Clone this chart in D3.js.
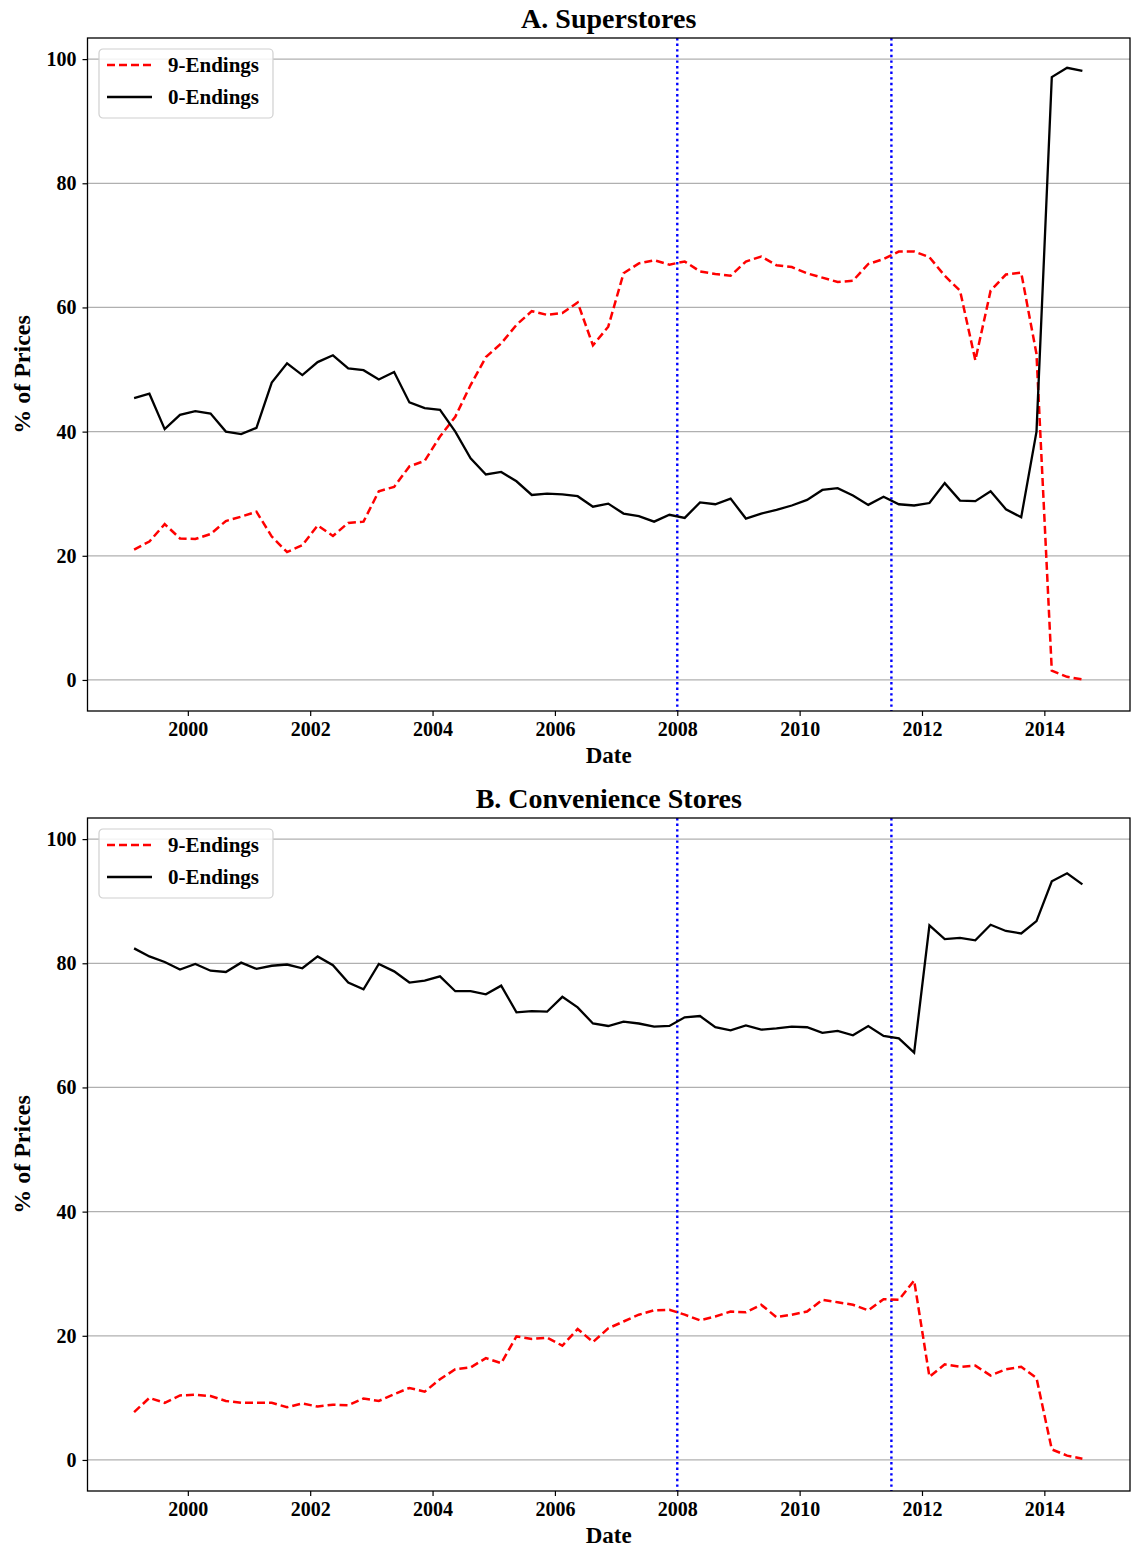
<!DOCTYPE html>
<html><head><meta charset="utf-8">
<script src="https://cdn.jsdelivr.net/npm/d3@7"></script>
<style>body{margin:0;background:#fff}</style>
</head><body>
<svg id="chart" width="1131" height="1547"></svg>
<script>
// Quarterly observation dates (YYYY-MM)
const dates = [
"1999-02","1999-05","1999-08","1999-11","2000-02","2000-05","2000-08","2000-11",
"2001-02","2001-05","2001-08","2001-11","2002-02","2002-05","2002-08","2002-11",
"2003-02","2003-05","2003-08","2003-11","2004-02","2004-05","2004-08","2004-11",
"2005-02","2005-05","2005-08","2005-11","2006-02","2006-05","2006-08","2006-11",
"2007-02","2007-05","2007-08","2007-11","2008-02","2008-05","2008-08","2008-11",
"2009-02","2009-05","2009-08","2009-11","2010-02","2010-05","2010-08","2010-11",
"2011-02","2011-05","2011-08","2011-11","2012-02","2012-05","2012-08","2012-11",
"2013-02","2013-05","2013-08","2013-11","2014-02","2014-05","2014-08"];

// A. Superstores
const superNine = [21.0,22.3,25.1,22.8,22.7,23.5,25.6,26.3,27.1,23.1,20.6,21.7,24.9,23.2,25.3,25.5,
30.4,31.1,34.4,35.3,39.2,42.4,47.5,52.0,54.2,57.2,59.4,58.8,59.1,60.8,53.9,56.9,
65.5,67.1,67.6,66.9,67.4,65.8,65.4,65.1,67.4,68.2,66.8,66.5,65.5,64.8,64.1,64.3,
67.0,67.8,69.0,69.0,68.1,65.1,62.7,51.5,62.7,65.3,65.6,52.5,1.5,0.5,0.1];
const superZero = [45.4,46.1,40.4,42.7,43.3,42.9,40.0,39.6,40.6,47.9,51.0,49.1,51.2,52.3,50.2,49.9,
48.4,49.6,44.7,43.8,43.5,40.0,35.7,33.1,33.5,32.0,29.8,30.0,29.9,29.6,27.9,28.4,
26.8,26.4,25.5,26.6,26.1,28.6,28.3,29.2,26.0,26.8,27.4,28.1,29.0,30.6,30.9,29.7,
28.2,29.5,28.3,28.1,28.5,31.7,28.9,28.8,30.4,27.5,26.2,40.0,97.1,98.6,98.1];

// B. Convenience Stores
const convNine = [7.7,10.0,9.2,10.4,10.5,10.3,9.5,9.2,9.2,9.2,8.5,9.1,8.6,8.9,8.8,9.9,
9.5,10.6,11.6,11.0,13.0,14.6,14.9,16.4,15.6,19.9,19.5,19.7,18.4,21.1,19.0,21.2,
22.3,23.4,24.1,24.2,23.4,22.5,23.1,23.9,23.8,25.0,23.0,23.4,23.9,25.8,25.4,25.0,
24.1,25.9,25.8,28.9,13.4,15.4,15.0,15.2,13.6,14.6,15.0,13.2,1.7,0.7,0.2];
const convZero = [82.4,81.1,80.2,79.0,79.9,78.8,78.6,80.1,79.1,79.6,79.8,79.2,81.1,79.7,76.9,75.8,
79.9,78.7,76.9,77.2,77.9,75.5,75.5,75.0,76.4,72.1,72.3,72.2,74.6,72.9,70.3,69.9,
70.6,70.3,69.8,69.9,71.3,71.5,69.7,69.2,70.0,69.3,69.5,69.8,69.7,68.8,69.1,68.4,
69.9,68.3,67.9,65.6,86.1,83.9,84.1,83.7,86.2,85.2,84.8,86.8,93.2,94.5,92.7];

const panelTitles = ["A. Superstores", "B. Convenience Stores"];
const seriesNames = ["9-Endings", "0-Endings"];
const xTicks = [2000, 2002, 2004, 2006, 2008, 2010, 2012, 2014];
const yTicks = [0, 20, 40, 60, 80, 100];
const eventDates = ["2008-01", "2011-07"];
const xLabel = "Date";
const yLabel = "% of Prices";

function decYear(s) {
  const [y, m] = s.split("-").map(Number);
  return y + (m - 1) / 12 + 14 / 365;
}
function decYearStart(s) {
  const [y, m] = s.split("-").map(Number);
  return y + (m - 1) / 12;
}

const svg = d3.select("#chart");
const FONT = "'Liberation Serif','Times New Roman',serif";
const left = 87.5, right = 1130;
const panels = [
  {top: 38, bottom: 711, title: panelTitles[0], nine: superNine, zero: superZero},
  {top: 818, bottom: 1491, title: panelTitles[1], nine: convNine, zero: convZero}
];

const x = d3.scaleLinear().domain([1998.36, 2015.40]).range([left, right]);

panels.forEach(p => {
  const y = d3.scaleLinear().domain([-5, 103.4]).range([p.bottom, p.top]);
  const g = svg.append("g");

  // grid
  g.selectAll(".grid").data(yTicks).join("line")
    .attr("x1", left).attr("x2", right)
    .attr("y1", d => y(d)).attr("y2", d => y(d))
    .attr("stroke", "#b0b0b0").attr("stroke-width", 1.2);

  // axes
  const xa = g.append("g").attr("transform", `translate(0,${p.bottom})`)
    .call(d3.axisBottom(x).tickValues(xTicks).tickFormat(d3.format("d")).tickSize(5).tickPadding(6));
  const ya = g.append("g").attr("transform", `translate(${left},0)`)
    .call(d3.axisLeft(y).tickValues(yTicks).tickSize(5).tickPadding(6));
  [xa, ya].forEach(a => {
    a.select(".domain").remove();
    a.selectAll("line").attr("stroke", "#000").attr("stroke-width", 1.2);
    a.selectAll("text").attr("font-family", FONT).attr("font-weight", "bold")
      .attr("font-size", 20).attr("fill", "#000");
  });

  // event lines
  g.selectAll(".ev").data(eventDates).join("line")
    .attr("x1", d => x(decYearStart(d))).attr("x2", d => x(decYearStart(d)))
    .attr("y1", p.top).attr("y2", p.bottom)
    .attr("stroke", "#0000ff").attr("stroke-width", 2.4)
    .attr("stroke-dasharray", "2.4,3.2");

  const line = d3.line().x((d, i) => x(decYear(dates[i]))).y(d => y(d));
  g.append("path").datum(p.nine).attr("d", line)
    .attr("fill", "none").attr("stroke", "#ff0000").attr("stroke-width", 2.5)
    .attr("stroke-dasharray", "8,4");
  g.append("path").datum(p.zero).attr("d", line)
    .attr("fill", "none").attr("stroke", "#000").attr("stroke-width", 2.3);

  // frame
  g.append("rect").attr("x", left).attr("y", p.top)
    .attr("width", right - left).attr("height", p.bottom - p.top)
    .attr("fill", "none").attr("stroke", "#000").attr("stroke-width", 1.3);

  // title
  g.append("text").attr("x", (left + right) / 2).attr("y", p.top - 10)
    .attr("text-anchor", "middle").attr("font-family", FONT).attr("font-weight", "bold")
    .attr("font-size", 28).text(p.title);
  // x label
  g.append("text").attr("x", (left + right) / 2).attr("y", p.bottom + 52)
    .attr("text-anchor", "middle").attr("font-family", FONT).attr("font-weight", "bold")
    .attr("font-size", 23).text(xLabel);
  // y label
  g.append("text").attr("transform", `translate(30,${(p.top + p.bottom) / 2}) rotate(-90)`)
    .attr("text-anchor", "middle").attr("font-family", FONT).attr("font-weight", "bold")
    .attr("font-size", 24).text(yLabel);

  // legend
  const lg = g.append("g").attr("transform", `translate(99,${p.top + 11})`);
  lg.append("rect").attr("width", 174).attr("height", 69).attr("rx", 4)
    .attr("fill", "#fff").attr("fill-opacity", 0.85).attr("stroke", "#d0d0d0").attr("stroke-width", 1.2);
  const items = [
    {name: seriesNames[0], color: "#ff0000", dash: "8,4", w: 2.5},
    {name: seriesNames[1], color: "#000", dash: null, w: 2.3}
  ];
  items.forEach((it, i) => {
    const yy = 16 + i * 32;
    lg.append("line").attr("x1", 8).attr("x2", 53).attr("y1", yy).attr("y2", yy)
      .attr("stroke", it.color).attr("stroke-width", it.w)
      .attr("stroke-dasharray", it.dash);
    lg.append("text").attr("x", 69).attr("y", yy).attr("dy", "0.35em")
      .attr("font-family", FONT).attr("font-weight", "bold").attr("font-size", 21)
      .text(it.name);
  });
});
</script>
</body></html>
